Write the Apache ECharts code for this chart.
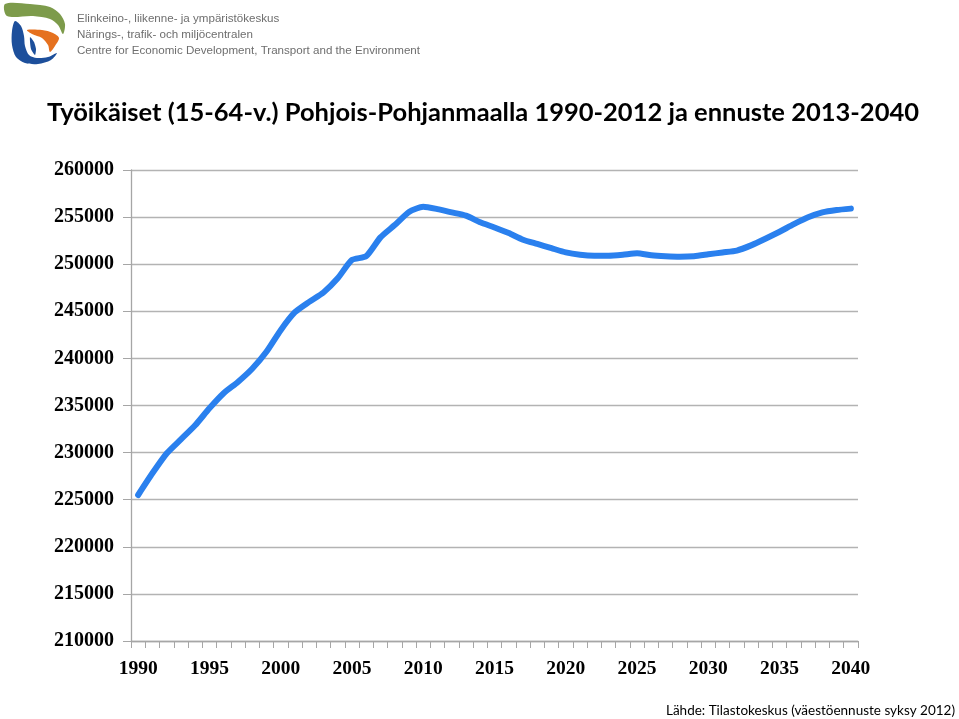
<!DOCTYPE html>
<html>
<head>
<meta charset="utf-8">
<script src="https://cdn.jsdelivr.net/npm/echarts@6/dist/echarts.min.js"></script>
<style>html,body{margin:0;padding:0;background:#fff;}#c{width:959px;height:719px;}</style>
</head>
<body>
<div id="c"></div>
<script>
const years = [];
for (let y = 1990; y <= 2040; y++) years.push(String(y));
const workingAge = [
  225500, 227800, 229900, 231400, 232900, 234700, 236300, 237500, 238900, 240700,
  243000, 244900, 246000, 247000, 248500, 250450, 250850, 252850, 254150, 255550,
  256100, 255850, 255500, 255150, 254450, 253900, 253300, 252600, 252150, 251700,
  251250, 251000, 250900, 250900, 251000, 251150, 250950, 250850, 250800, 250850,
  251050, 251250, 251450, 252000, 252700, 253450, 254250, 254980, 255500, 255750,
  255900
];
const yTicks = { min: 210000, max: 260000, step: 5000 };
const titleText = 'Työikäiset (15-64-v.) Pohjois-Pohjanmaalla 1990-2012 ja ennuste 2013-2040';
const sourceText = 'Lähde: Tilastokeskus (väestöennuste syksy 2012)';
const logoLines = [
  'Elinkeino-, liikenne- ja ympäristökeskus',
  'Närings-, trafik- och miljöcentralen',
  'Centre for Economic Development, Transport and the Environment'
];

const chart = echarts.init(document.getElementById('c'));
chart.setOption({
  backgroundColor: '#ffffff',
  animation: false,
  grid: { left: 131, right: 101, top: 170, bottom: 78, containLabel: false },
  xAxis: {
    type: 'category',
    data: years,
    boundaryGap: true,
    axisLine: { lineStyle: { color: '#a6a6a6', width: 1.3 } },
    axisTick: { show: true, interval: 0, length: 7, inside: false, lineStyle: { color: '#a6a6a6' } },
    axisLabel: {
      interval: 4,
      margin: 18,
      color: '#000',
      fontFamily: 'Liberation Serif',
      fontWeight: 'bold',
      fontSize: 19.5
    },
    splitLine: { show: false }
  },
  yAxis: {
    type: 'value',
    min: yTicks.min,
    max: yTicks.max,
    interval: yTicks.step,
    axisLine: { show: true, lineStyle: { color: '#a6a6a6', width: 1.3 } },
    axisTick: { show: true, length: 8, lineStyle: { color: '#a6a6a6' } },
    axisLabel: {
      margin: 17,
      color: '#000',
      fontFamily: 'Liberation Serif',
      fontWeight: 'bold',
      fontSize: 20,
      formatter: function (v) { return String(v); }
    },
    splitLine: { show: true, lineStyle: { color: '#b3b3b3', width: 1.3 } }
  },
  series: [{
    type: 'line',
    data: workingAge,
    showSymbol: false,
    symbol: 'none',
    smooth: 0.2,
    lineStyle: { color: '#2a80ee', width: 6, cap: 'round', join: 'round' }
  }],
  graphic: [
    { type: 'text', x: 47, y: 100, style: { text: titleText, font: 'bold 25.5px Lato', fill: '#000' } },
    { type: 'text', x: 955, y: 704, style: { text: sourceText, font: '13.5px Lato', fill: '#000', align: 'right' } },
    { type: 'text', x: 77, y: 13, style: { text: logoLines[0], font: '11.6px "Liberation Sans"', fill: '#6e6e6e' } },
    { type: 'text', x: 77, y: 29, style: { text: logoLines[1], font: '11.6px "Liberation Sans"', fill: '#6e6e6e' } },
    { type: 'text', x: 77, y: 45, style: { text: logoLines[2], font: '11.6px "Liberation Sans"', fill: '#6e6e6e' } },
    { type: 'polygon', shape: { smooth: 0.3, points: [[5,4],[30,4],[50,7],[60,14],[65,24],[63,34],[58,25],[50,19],[33,16],[7,16]] }, style: { fill: '#7d9b4b' } },
    { type: 'polygon', shape: { smooth: 0.3, points: [[15,21],[21,26],[24,36],[25,46],[29,55],[37,58],[48,57],[57,53],[51,60],[38,64],[25,63],[16,57],[12,45],[12,31]] }, style: { fill: '#1d4f9b' } },
    { type: 'polygon', shape: { smooth: 0.3, points: [[27,30],[42,30],[53,33],[59,38],[55,46],[50,52],[48,45],[42,38],[32,34]] }, style: { fill: '#e5711f' } },
    { type: 'polygon', shape: { smooth: 0.2, points: [[30,37],[34,42],[36,49],[35,55],[31,49]] }, style: { fill: '#1d4f9b' } }
  ]
});
</script>
</body>
</html>
